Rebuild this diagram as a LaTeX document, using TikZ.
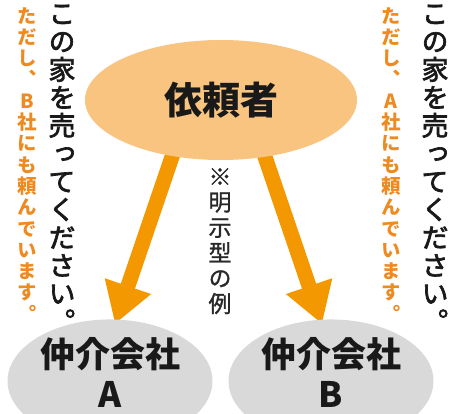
\documentclass[tikz,border=0pt]{standalone}
\usepackage{fontspec}
\usetikzlibrary{shapes.geometric,arrows.meta}
\newfontfamily\jp{Noto Sans CJK JP}
\newfontfamily\jpv[RawFeature=+vert]{Noto Sans CJK JP}
\newfontfamily\jpvm[RawFeature=+vert,FakeBold=2.5]{Noto Sans CJK JP}
\newfontfamily\jpvn[RawFeature=+vert,FakeBold=1.2]{Noto Sans CJK JP}
\definecolor{topfill}{RGB}{248,196,128}
\definecolor{arrowor}{RGB}{243,152,0}
\definecolor{grayfill}{RGB}{217,217,217}
\definecolor{ortext}{RGB}{238,138,32}
\definecolor{darktext}{RGB}{40,40,40}
\pgfdeclarelayer{bg}
\pgfsetlayers{bg,main}
\tikzset{
  topell/.style={ellipse, fill=topfill, inner sep=0pt, minimum width=272pt, minimum height=120pt,
    font={\jp\bfseries\fontsize{38}{40}\selectfont}, text=black!90},
  grayell/.style={ellipse, fill=grayfill, inner sep=0pt, minimum width=205pt, minimum height=102pt,
    align=center, text depth=17pt, font={\jp\bfseries\fontsize{35}{40}\selectfont}, text=black!90},
  bigarrow/.style={draw=arrowor, line width=15pt, -{Triangle[length=40pt,width=46pt]}},
  vblack/.style={anchor=north, inner sep=0pt, align=center, text=black!90,
    font={\jpvm\fontsize{27}{28}\selectfont}},
  vorange/.style={anchor=north, inner sep=0pt, align=center, text=ortext,
    font={\jpv\bfseries\fontsize{19.5}{21.3}\selectfont}},
  vnote/.style={anchor=north, inner sep=0pt, align=center, text=darktext,
    font={\jpvn\fontsize{23}{25.4}\selectfont}}
}
\begin{document}
\begin{tikzpicture}[x=1pt,y=-1pt]
\useasboundingbox (0,0) rectangle (454,413);
\clip (0,0) rectangle (454,413);
% nodes
\node[topell] (client) at (221,100) {依頼者};
\node[grayell] (A) at (110,381) {仲介会社\\A};
\node[grayell] (B) at (331,381) {仲介会社\\B};
% arrows (behind the top ellipse)
\coordinate (sA) at (175,148);
\coordinate (tA) at (115,324);
\coordinate (sB) at (262,148);
\coordinate (tB) at (322,324);
\begin{pgfonlayer}{bg}
\draw[bigarrow] (sA) -- (tA);
\draw[bigarrow] (sB) -- (tB);
\end{pgfonlayer}
% vertical texts
\node[vblack] (lblack) at (62,4.5) {こ\\の\\家\\を\\売\\っ\\て\\く\\だ\\さ\\い\\。};
\node[vorange] (lorange) at (27,7) {た\\だ\\し\\、\\B\\社\\に\\も\\頼\\ん\\で\\い\\ま\\す\\。};
\node[vblack] (rblack) at (435,4.5) {こ\\の\\家\\を\\売\\っ\\て\\く\\だ\\さ\\い\\。};
\node[vorange] (rorange) at (391,7) {た\\だ\\し\\、\\A\\社\\に\\も\\頼\\ん\\で\\い\\ま\\す\\。};
\node[vnote] (note) at (220,168) {※\\明\\示\\型\\の\\例};
\end{tikzpicture}
\end{document}
